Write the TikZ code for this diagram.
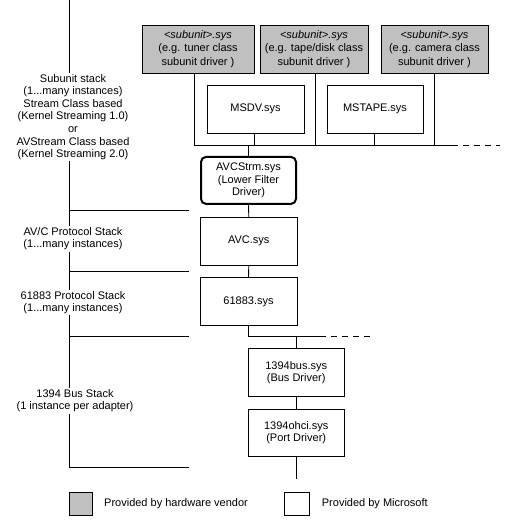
\documentclass[tikz,border=0pt]{standalone}
\usepackage{fontspec}
\setmainfont{Liberation Sans}
\definecolor{vgray}{RGB}{192,192,192}
\begin{document}
\begin{tikzpicture}[x=1pt,y=-1pt,
  every node/.style={font=\fontsize{11}{12.6}\selectfont, inner sep=0pt},
  line/.style={line width=0.9pt},
  dsh/.style={line width=0.9pt, dash pattern=on 6pt off 5pt},
  box/.style={draw, line width=0.9pt, align=center, minimum height=48},
  vbox/.style={box, fill=vgray, font=\fontsize{11}{13.3}\selectfont},
  lbl/.style={fill=white, align=center, inner sep=1.5pt},
  sq/.style={draw, line width=0.9pt, minimum width=24, minimum height=22.7}]
\useasboundingbox (0,0) rectangle (504,520);

% left stack line
\coordinate (vtop) at (69,0);
\coordinate (vbot) at (69,467.7);
\draw[line] (vtop) -- (vbot);
\coordinate (h1) at (189,210.5);
\coordinate (h2) at (189,271);
\coordinate (h3) at (189,336);
\coordinate (h4) at (189,467.7);
\draw[line] (vtop |- h1) -- (h1);
\draw[line] (vtop |- h2) -- (h2);
\draw[line] (vtop |- h3) -- (h3);
\draw[line] (vbot) -- (h4);

% left labels
\node[lbl] (l1) at (73,117) {Subunit stack\\(1...many instances)\\Stream Class based\\(Kernel Streaming 1.0)\\or\\AVStream Class based\\(Kernel Streaming 2.0)};
\node[lbl] (l2) at (73,238.7) {AV/C Protocol Stack\\(1...many instances)};
\node[lbl] (l3) at (73,302.5) {61883 Protocol Stack\\(1...many instances)};
\node[lbl] (l4) at (75,400.8) {1394 Bus Stack\\(1 instance per adapter)};

% vendor boxes
\node[vbox, minimum width=112] (g1) at (198,49) {\textit{<subunit>.sys}\\(e.g. tuner class\\subunit driver )};
\node[vbox, minimum width=108] (g2) at (314,49) {\textit{<subunit>.sys}\\(e.g. tape/disk class\\subunit driver )};
\node[vbox, minimum width=107] (g3) at (434.5,49) {\textit{<subunit>.sys}\\(e.g. camera class\\subunit driver )};

% minidrivers
\node[box, minimum width=97] (msdv) at (255.5,109) {MSDV.sys};
\node[box, minimum width=96] (mstape) at (375,109) {MSTAPE.sys};

% bus
\coordinate (busE) at (452,145.7);
\coordinate (busD) at (500,145.7);
\draw[line] ([xshift=-4]g1.south) |- (busE);
\draw[dsh] (busE) -- (busD);
\draw[line] ([xshift=1]g2.south) -- ([xshift=1]g2.south |- busE);
\draw[line] (g3.south) -- (g3.south |- busE);
\draw[line] ([xshift=-1]msdv.south) -- ([xshift=-1]msdv.south |- busE);
\draw[line] ([xshift=-1]mstape.south) -- ([xshift=-1]mstape.south |- busE);

% lower stack
\node[box, line width=2pt, rounded corners=5pt, minimum width=95, minimum height=47] (avcstrm) at (248.5,180.4) {AVCStrm.sys\\(Lower Filter\\Driver)};
\node[box, minimum width=97] (avc) at (248.8,241.2) {AVC.sys};
\node[box, minimum width=97] (p61883) at (248.5,301.3) {61883.sys};
\node[box, minimum width=96] (bus) at (296.2,372.8) {1394bus.sys\\(Bus Driver)};
\node[box, minimum width=96, minimum height=47] (ohci) at (296.2,432.5) {1394ohci.sys\\(Port Driver)};

\draw[line] (avcstrm.north) -- (avcstrm.north |- busE);
\draw[line] (avcstrm.south) -- (avc.north);
\draw[line] (avc.south) -- (p61883.north);
\coordinate (pE) at (320,336);
\coordinate (pD) at (370,336);
\draw[line] (p61883.south) |- (pE);
\draw[dsh] (pE) -- (pD);
\draw[line] (bus.north) -- (bus.north |- pE);
\draw[line] (bus.south) -- (ohci.north);
\coordinate (oend) at (296.2,479.3);
\draw[line] (ohci.south) -- (oend);

% legend
\node[sq, fill=vgray, minimum width=23] (lg) at (80.8,503.6) {};
\node[anchor=west] (lgt) at (104,503.6) {Provided by hardware vendor};
\node[sq, minimum width=25.3] (lw) at (296.7,503.6) {};
\node[anchor=west] (lwt) at (321.7,503.6) {Provided by Microsoft};
\end{tikzpicture}
\end{document}
